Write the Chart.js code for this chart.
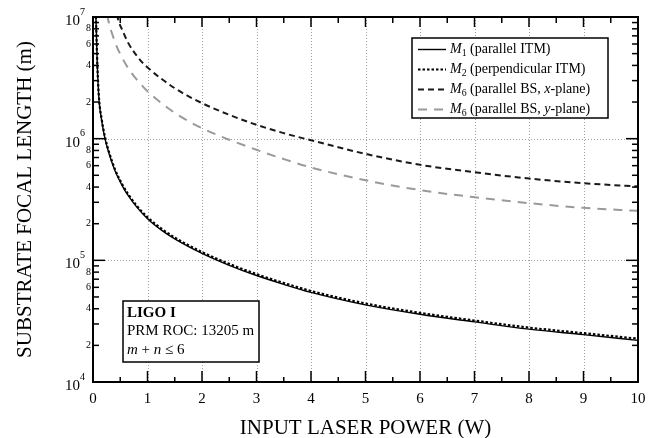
<!DOCTYPE html>
<html lang="en">
<head>
<meta charset="UTF-8">
<title>Substrate focal length</title>
<script src="https://cdn.jsdelivr.net/npm/chart.js"></script>
<style>
  html, body { margin: 0; padding: 0; background: #fff; }
  #grafico { display: block; }
</style>
</head>
<body>
<canvas id="grafico" width="662" height="438"></canvas>
<script>
// valores (potência em W, distância focal em m)
const m1X = [0.05, 0.055, 0.08, 0.11, 0.16, 0.22, 0.3, 0.4, 0.55, 0.65, 0.8, 1.0, 1.25, 1.5, 2, 2.5, 3, 3.5, 4, 5, 6, 7, 8, 9, 10];
const m1Y = [1.1e7, 9.4e6, 3.9e6, 2.1e6, 1.4e6, 1.0e6, 7.4e5, 5.5e5, 4.0e5, 3.38e5, 2.75e5, 2.2e5, 1.78e5, 1.5e5, 1.14e5, 9.1e4, 7.5e4, 6.35e4, 5.45e4, 4.3e4, 3.6e4, 3.12e4, 2.72e4, 2.45e4, 2.2e4];
const m2X = [0.05, 0.055, 0.08, 0.11, 0.16, 0.22, 0.3, 0.4, 0.55, 0.65, 0.8, 1.0, 1.25, 1.5, 2, 2.5, 3, 3.5, 4, 5, 6, 7, 8, 9, 10];
const m2Y = [1.1e7, 9.6e6, 4.0e6, 2.15e6, 1.44e6, 1.03e6, 7.6e5, 5.65e5, 4.1e5, 3.47e5, 2.82e5, 2.26e5, 1.83e5, 1.54e5, 1.17e5, 9.35e4, 7.7e4, 6.52e4, 5.6e4, 4.42e4, 3.7e4, 3.2e4, 2.8e4, 2.52e4, 2.27e4];
const m6xX = [0.44, 0.465, 0.55, 0.648, 0.862, 1.0, 1.5, 2, 2.5, 3, 3.5, 4, 5, 6, 7, 8, 9, 10];
const m6xY = [1.05e7, 9.4e6, 7.6e6, 6.1e6, 4.45e6, 3.85e6, 2.6e6, 1.96e6, 1.57e6, 1.3e6, 1.11e6, 9.7e5, 7.5e5, 6.1e5, 5.3e5, 4.7e5, 4.3e5, 4.05e5];
const m6yX = [0.26, 0.28, 0.4, 0.526, 0.68, 0.862, 1.0, 1.5, 2, 2.5, 3, 3.5, 4, 5, 6, 7, 8, 9, 10];
const m6yY = [1.05e7, 9.4e6, 6.3e6, 4.7e6, 3.6e6, 2.85e6, 2.45e6, 1.63e6, 1.22e6, 9.8e5, 8.1e5, 6.8e5, 5.8e5, 4.55e5, 3.78e5, 3.3e5, 2.95e5, 2.7e5, 2.55e5];

// eixos
const xTicks = [0, 1, 2, 3, 4, 5, 6, 7, 8, 9, 10];
const xMinor = [0.5, 1.5, 2.5, 3.5, 4.5, 5.5, 6.5, 7.5, 8.5, 9.5];
const xGrid = [1, 2, 3, 4, 5, 6, 7, 8, 9];
const yExpoentes = [4, 5, 6, 7];
const yMinorMult = [2, 3, 4, 5, 6, 7, 8, 9];
const yMinorRotulos = [2, 4, 6, 8];
const yGrid = [1e5, 1e6];

const tituloX = 'INPUT LASER POWER (W)';
const tituloY = 'SUBSTRATE FOCAL LENGTH (m)';

const legenda = [
  [{ t: 'M', i: true }, { t: '1', sub: true }, { t: ' (parallel ITM)' }],
  [{ t: 'M', i: true }, { t: '2', sub: true }, { t: ' (perpendicular ITM)' }],
  [{ t: 'M', i: true }, { t: '6', sub: true }, { t: ' (parallel BS, ' }, { t: 'x', i: true }, { t: '-plane)' }],
  [{ t: 'M', i: true }, { t: '6', sub: true }, { t: ' (parallel BS, ' }, { t: 'y', i: true }, { t: '-plane)' }]
];
const caixaTexto = [
  [{ t: 'LIGO I', b: true }],
  [{ t: 'PRM ROC: 13205 m' }],
  [{ t: 'm', i: true }, { t: ' + ' }, { t: 'n', i: true }, { t: ' \u2264 6' }]
];

const SERIF = '"Liberation Serif", "DejaVu Serif", serif';

function pontos(xs, ys) {
  return xs.map((x, i) => ({ x: x, y: ys[i] }));
}

// desenha texto com partes em itálico / subscrito
function textoRico(ctx, partes, x, y, tam) {
  let cx = x;
  partes.forEach(p => {
    const t = p.sub ? tam * 0.7 : tam;
    ctx.font = (p.i ? 'italic ' : '') + (p.b ? 'bold ' : '') + t + 'px ' + SERIF;
    ctx.textBaseline = 'middle';
    ctx.textAlign = 'left';
    ctx.fillText(p.t, cx, p.sub ? y + tam * 0.25 : y);
    cx += ctx.measureText(p.t).width;
  });
}

function linha(ctx, x1, y1, x2, y2) {
  ctx.beginPath();
  ctx.moveTo(x1, y1);
  ctx.lineTo(x2, y2);
  ctx.stroke();
}

const estilos = [
  { cor: '#000', largura: 1.4, traco: [] },
  { cor: '#000', largura: 2.2, traco: [2.5, 2] },
  { cor: '#1a1a1a', largura: 2, traco: [6, 4] },
  { cor: '#9a9a9a', largura: 2, traco: [9, 7] }
];

const pluginEixos = {
  id: 'eixos',
  beforeDatasetsDraw(chart) {
    const { ctx, chartArea: a, scales: { x, y } } = chart;
    ctx.save();
    ctx.strokeStyle = '#a0a0a0';
    ctx.lineWidth = 1;
    ctx.setLineDash([1, 2]);
    xGrid.forEach(v => {
      const px = Math.round(x.getPixelForValue(v)) + 0.5;
      linha(ctx, px, a.top, px, a.bottom);
    });
    yGrid.forEach(v => {
      const py = Math.round(y.getPixelForValue(v)) + 0.5;
      linha(ctx, a.left, py, a.right, py);
    });
    ctx.restore();
  },
  afterDatasetsDraw(chart) {
    const { ctx, chartArea: a, scales: { x, y } } = chart;
    ctx.save();
    ctx.fillStyle = '#000';
    ctx.strokeStyle = '#000';
    ctx.setLineDash([]);

    // marcas do eixo x (embaixo e em cima)
    ctx.lineWidth = 1.5;
    xTicks.forEach(v => {
      const px = x.getPixelForValue(v);
      linha(ctx, px, a.bottom, px, a.bottom - 11);
      linha(ctx, px, a.top, px, a.top + 10);
    });
    xMinor.forEach(v => {
      const px = x.getPixelForValue(v);
      linha(ctx, px, a.bottom, px, a.bottom - 5);
      linha(ctx, px, a.top, px, a.top + 6);
    });

    // marcas do eixo y (esquerda e direita)
    yExpoentes.forEach(e => {
      const py = y.getPixelForValue(Math.pow(10, e));
      linha(ctx, a.left, py, a.left + 12, py);
      linha(ctx, a.right, py, a.right - 12, py);
      if (e < 7) {
        yMinorMult.forEach(m => {
          const pm = y.getPixelForValue(m * Math.pow(10, e));
          linha(ctx, a.left, pm, a.left + 6, pm);
          linha(ctx, a.right, pm, a.right - 6, pm);
        });
      }
    });

    // borda
    ctx.lineWidth = 2;
    ctx.strokeRect(a.left, a.top, a.right - a.left, a.bottom - a.top);

    // rótulos do eixo x
    ctx.font = '15px ' + SERIF;
    ctx.textAlign = 'center';
    ctx.textBaseline = 'middle';
    xTicks.forEach(v => {
      ctx.fillText(String(v), x.getPixelForValue(v), a.bottom + 17);
    });

    // rótulos do eixo y
    yExpoentes.forEach(e => {
      const py = y.getPixelForValue(Math.pow(10, e));
      ctx.font = '15px ' + SERIF;
      ctx.textAlign = 'right';
      ctx.textBaseline = 'middle';
      ctx.fillText('10', a.left - 13, py + 4);
      ctx.font = '10px ' + SERIF;
      ctx.textAlign = 'left';
      ctx.fillText(String(e), a.left - 13, py - 5);
      if (e < 7) {
        yMinorRotulos.forEach(m => {
          ctx.font = '10px ' + SERIF;
          ctx.textAlign = 'right';
          ctx.fillText(String(m), a.left - 2, y.getPixelForValue(m * Math.pow(10, e)));
        });
      }
    });

    // títulos
    ctx.font = '21px ' + SERIF;
    ctx.textAlign = 'center';
    ctx.textBaseline = 'middle';
    ctx.fillText(tituloX, (a.left + a.right) / 2, 428);
    ctx.save();
    ctx.translate(25, (a.top + a.bottom) / 2);
    ctx.rotate(-Math.PI / 2);
    ctx.fillText(tituloY, 0, 0);
    ctx.restore();

    // legenda
    ctx.fillStyle = '#fff';
    ctx.fillRect(412, 38, 196, 80);
    ctx.lineWidth = 1.5;
    ctx.strokeStyle = '#000';
    ctx.strokeRect(412, 38, 196, 80);
    legenda.forEach((partes, i) => {
      const ly = 49.5 + i * 20;
      const st = estilos[i];
      ctx.save();
      ctx.strokeStyle = st.cor;
      ctx.lineWidth = st.largura;
      ctx.setLineDash(st.traco);
      linha(ctx, 418, ly, 446, ly);
      ctx.restore();
      ctx.fillStyle = '#000';
      textoRico(ctx, partes, 450, ly, 14);
    });

    // caixa de texto
    ctx.fillStyle = '#fff';
    ctx.fillRect(123, 301, 136, 61);
    ctx.strokeStyle = '#000';
    ctx.lineWidth = 1.5;
    ctx.strokeRect(123, 301, 136, 61);
    ctx.fillStyle = '#000';
    caixaTexto.forEach((partes, i) => {
      textoRico(ctx, partes, 127, 313 + i * 18.5, 15);
    });

    ctx.restore();
  }
};

const nomes = ['M1 (parallel ITM)', 'M2 (perpendicular ITM)', 'M6 (parallel BS, x-plane)', 'M6 (parallel BS, y-plane)'];
const series = [pontos(m1X, m1Y), pontos(m2X, m2Y), pontos(m6xX, m6xY), pontos(m6yX, m6yY)];
const ordem = [1, 0, 2, 3];

new Chart(document.getElementById('grafico'), {
  type: 'line',
  data: {
    datasets: series.map((d, i) => ({
      label: nomes[i],
      data: d,
      borderColor: estilos[i].cor,
      borderWidth: estilos[i].largura,
      borderDash: estilos[i].traco,
      pointRadius: 0,
      fill: false,
      cubicInterpolationMode: 'monotone',
      order: ordem[i]
    }))
  },
  options: {
    responsive: false,
    animation: false,
    layout: { padding: { left: 93, top: 17, right: 24, bottom: 56 } },
    plugins: { legend: { display: false }, tooltip: { enabled: false } },
    scales: {
      x: { type: 'linear', min: 0, max: 10, display: false },
      y: { type: 'logarithmic', min: 1e4, max: 1e7, display: false }
    }
  },
  plugins: [pluginEixos]
});
</script>
</body>
</html>
